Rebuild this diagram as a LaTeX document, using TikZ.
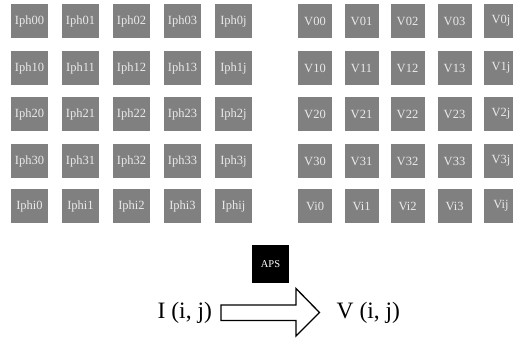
\documentclass[tikz,border=0pt]{standalone}
\usepackage{fontspec}
\setmainfont{Liberation Serif}
\begin{document}
\begin{tikzpicture}[x=1pt,y=-1pt,
  cellL/.style={fill=boxgray,draw=none,minimum width=37pt,minimum height=34pt,inner sep=0pt,text=lbl,font=\fontsize{12.5}{12.5}\selectfont},
  cellR/.style={fill=boxgray,draw=none,minimum width=34pt,minimum height=34pt,inner sep=0pt,text=lbl,font=\fontsize{12.5}{12.5}\selectfont},
  apsbox/.style={fill=black,minimum width=37pt,minimum height=38pt,inner sep=0pt,text=white,font=\fontsize{10.5}{10.5}\selectfont},
  bigtxt/.style={font=\fontsize{23.5}{23.5}\selectfont,inner sep=0pt,anchor=base west},
  blockarrow/.style={draw=black,line width=1.3pt,fill=white,line join=miter}]
\definecolor{boxgray}{HTML}{808080}
\definecolor{lbl}{HTML}{EAEAEA}
\useasboundingbox (0,0) rectangle (513,338);
\begin{scope}
\clip (0,0) rectangle (513,338);
\foreach \r/\ry [count=\ri] in {0/21,1/68,2/114,3/161,i/206}{
  \foreach \c/\cx [count=\ci] in {0/29.5,1/80.5,2/131.5,3/182.5,j/233.5}{
    \node[cellL] (L\ri\ci) at (\cx,\ry) {Iph\r\c};
  }
  \foreach \c/\cx [count=\ci] in {0/315,1/361.5,2/407.5,3/454.5,j/501}{
    \node[cellR] (R\ri\ci) at (\cx,\ry) {V\r\c};
  }
}
\end{scope}
\node[apsbox] (aps) at (270.5,264) {APS};
\node[bigtxt] (I) at (157.5,318) {I (i, j)};
\node[bigtxt] (V) at (336.5,318) {V (i, j)};
\draw[blockarrow] (221,305) coordinate (a0) -- (296,305) -- (296,288.5) -- (319.5,312.5) -- (296,336) -- (296,320.5) -- (221,320.5) -- cycle;
\end{tikzpicture}
\end{document}
